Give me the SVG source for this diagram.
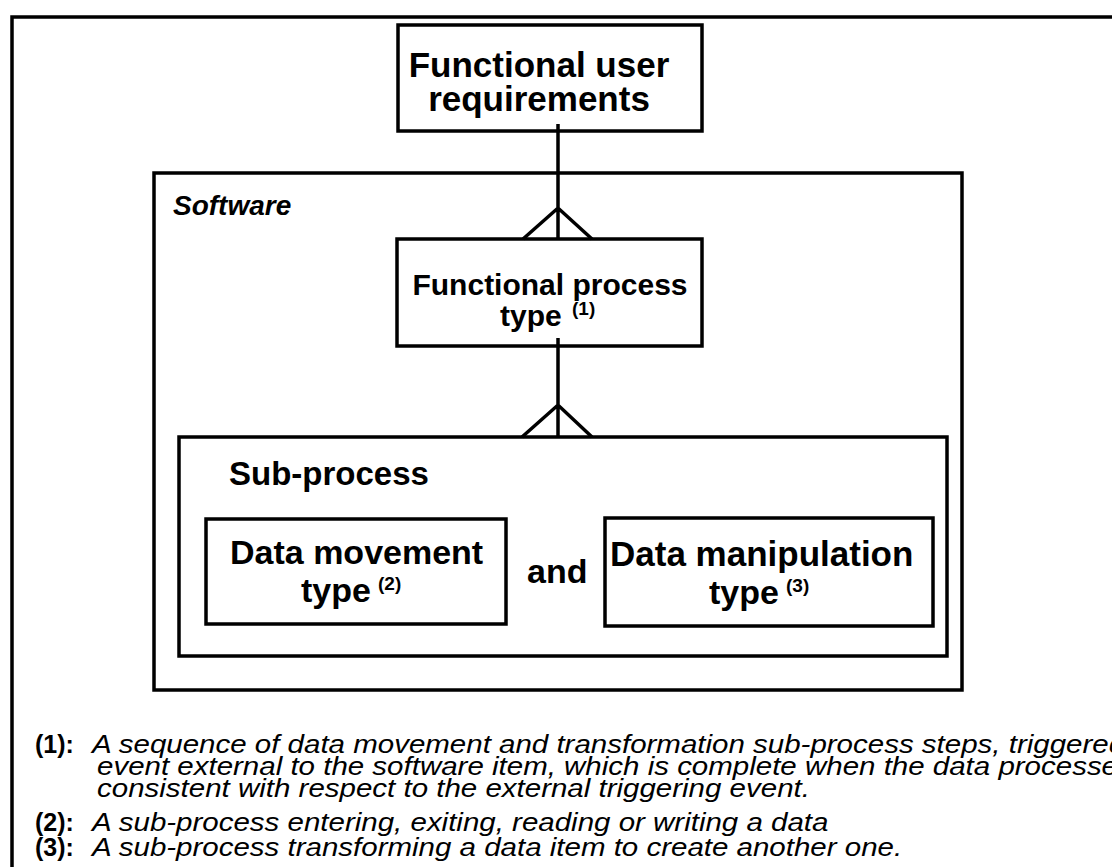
<svg xmlns="http://www.w3.org/2000/svg" width="1112" height="867" viewBox="0 0 1112 867">
<style>
.box{fill:none;stroke:#000;stroke-width:3.5}
.ln{fill:none;stroke:#000;stroke-width:3.5}
.lbl{font-family:"Liberation Sans",Arial,sans-serif;font-weight:bold;fill:#000}
.sup{font-family:"Liberation Sans",Arial,sans-serif;font-weight:bold;font-size:19px;fill:#000}
.fnb{font-family:"Liberation Sans",Arial,sans-serif;font-weight:bold;font-size:25px;fill:#000}
.fni{font-family:"Liberation Sans",Arial,sans-serif;font-style:italic;font-size:25px;fill:#000}
</style>
<rect width="1112" height="867" fill="#fff"/>
<path class="box" d="M12,870 V17 H1115"/>
<g id="software">
<rect class="box" x="154" y="173" width="808" height="517"/>
<text class="lbl" x="173" y="215" font-size="28" font-style="italic">Software</text>
</g>
<g id="fur">
<rect class="box" x="398" y="25" width="304" height="106"/>
<text class="lbl" font-size="35" text-anchor="middle"><tspan x="539" y="77">Functional user</tspan><tspan x="539" y="111">requirements</tspan></text>
</g>
<g id="fpt">
<rect class="box" x="397" y="239" width="305" height="107"/>
<text class="lbl" font-size="30" text-anchor="middle" x="550" y="295">Functional process</text>
<text class="lbl" font-size="30" x="500" y="326">type</text>
<text class="sup" x="572" y="315">(1)</text>
</g>
<g id="subprocess">
<rect class="box" x="179" y="437" width="768" height="219"/>
<text class="lbl" font-size="33" x="229" y="485">Sub-process</text>
<text class="lbl" font-size="34" x="527" y="583">and</text>
</g>
<g id="dmt">
<rect class="box" x="206" y="519" width="300" height="105"/>
<text class="lbl" font-size="34" x="230" y="564">Data movement</text>
<text class="lbl" font-size="34" x="301" y="602">type</text>
<text class="sup" x="378" y="590">(2)</text>
</g>
<g id="dmant">
<rect class="box" x="605" y="518" width="328" height="108"/>
<text class="lbl" font-size="35" x="610" y="566">Data manipulation</text>
<text class="lbl" font-size="34" x="709" y="604">type</text>
<text class="sup" x="786" y="592">(3)</text>
</g>
<g id="connectors">
<path class="ln" d="M558,124 V239 M523,239 L558,208 L592,239"/>
<path class="ln" d="M558,338 V437 M522,437 L558,405 L592,437"/>
</g>
<g id="footnotes">
<text class="fnb" x="35" y="753">(1):</text>
<text class="fni" transform="translate(92,753) scale(1.18,1)">A sequence of data movement and transformation sub-process steps, triggered</text>
<text class="fni" transform="translate(97,775) scale(1.18,1)">event external to the software item, which is complete when the data processed</text>
<text class="fni" transform="translate(97,797) scale(1.18,1)">consistent with respect to the external triggering event.</text>
<text class="fnb" x="35" y="831">(2):</text>
<text class="fni" transform="translate(92,831) scale(1.18,1)">A sub-process entering, exiting, reading or writing a data</text>
<text class="fnb" x="35" y="856">(3):</text>
<text class="fni" transform="translate(92,856) scale(1.18,1)">A sub-process transforming a data item to create another one.</text>
</g>
</svg>
